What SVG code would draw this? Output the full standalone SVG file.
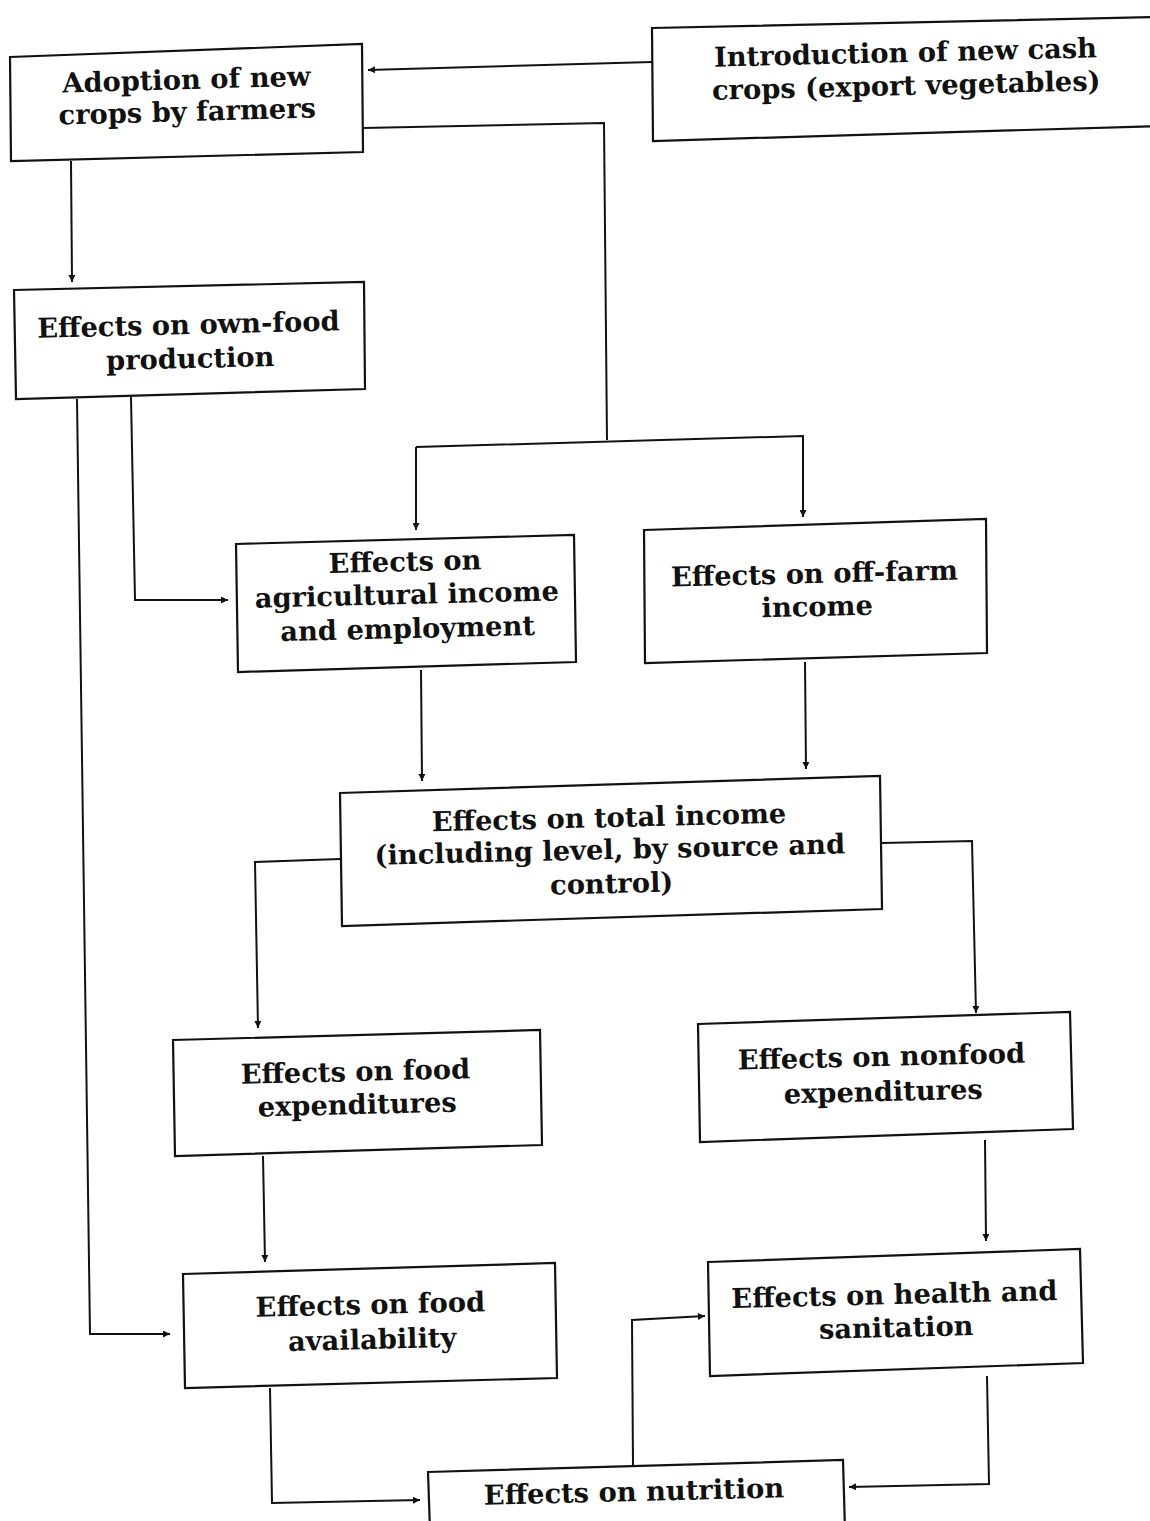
<svg xmlns="http://www.w3.org/2000/svg" width="1150" height="1521" viewBox="0 0 1150 1521">
<defs>
<style>
.box{fill:#fff;stroke:#111;stroke-width:2.2;stroke-linejoin:miter}
.lbl{font-family:"DejaVu Serif","Liberation Serif",serif;font-weight:bold;font-size:27.3px;fill:#111;text-anchor:middle}
.con{fill:none;stroke:#111;stroke-width:2}
</style>
<marker id="ah" viewBox="0 0 10 10" refX="10" refY="5" markerWidth="9" markerHeight="7" markerUnits="userSpaceOnUse" orient="auto">
<path d="M0,0 L10,5 L0,10 z" fill="#111"/>
</marker>
</defs>
<rect width="1150" height="1521" fill="#fff"/>

<g id="connectors">
<path class="con" d="M652,62 L368,70" marker-end="url(#ah)"/>
<path class="con" d="M363,128 L604,123 L607,440"/>
<path class="con" d="M416,447 L803,436 L803,517" marker-end="url(#ah)"/>
<path class="con" d="M416,447 L416,530" marker-end="url(#ah)"/>
<path class="con" d="M71,161 L72,282" marker-end="url(#ah)"/>
<path class="con" d="M77,399 L90,1334 L170,1334" marker-end="url(#ah)"/>
<path class="con" d="M131,397 L135,600 L228,600" marker-end="url(#ah)"/>
<path class="con" d="M421,670 L422,781" marker-end="url(#ah)"/>
<path class="con" d="M805,662 L806,769" marker-end="url(#ah)"/>
<path class="con" d="M340,859 L255,862 L258,1028" marker-end="url(#ah)"/>
<path class="con" d="M882,843 L972,841 L976,1013" marker-end="url(#ah)"/>
<path class="con" d="M263,1156 L265,1262" marker-end="url(#ah)"/>
<path class="con" d="M985,1140 L986,1241" marker-end="url(#ah)"/>
<path class="con" d="M270,1388 L272,1503 L420,1500" marker-end="url(#ah)"/>
<path class="con" d="M987,1376 L989,1484 L849,1487" marker-end="url(#ah)"/>
<path class="con" d="M633,1466 L632,1320 L705,1316" marker-end="url(#ah)"/>
</g>

<g id="n1">
<polygon class="box" points="10,57 362,44 363,152 11,161"/>
<g transform="rotate(-1.6 187 104)">
<text class="lbl" x="187" y="89">Adoption of new</text>
<text class="lbl" x="187" y="121">crops by farmers</text>
</g>
</g>

<g id="n2">
<polygon class="box" points="652,28 1160,17 1160,126 653,141"/>
<g transform="rotate(-1.4 906 76)">
<text class="lbl" x="906" y="62">Introduction of new cash</text>
<text class="lbl" x="906" y="95">crops (export vegetables)</text>
</g>
</g>

<g id="n3">
<polygon class="box" points="14,290 364,282 365,389 16,399"/>
<g transform="rotate(-1.4 189 350)">
<text class="lbl" x="189" y="334">Effects on own-food</text>
<text class="lbl" x="190" y="368">production</text>
</g>
</g>

<g id="n4">
<polygon class="box" points="236,544 574,535 576,662 238,672"/>
<g transform="rotate(-1.4 407 603)">
<text class="lbl" x="406" y="571">Effects on</text>
<text class="lbl" x="407" y="604">agricultural income</text>
<text class="lbl" x="407" y="638">and employment</text>
</g>
</g>

<g id="n5">
<polygon class="box" points="644,530 986,519 987,653 645,663"/>
<g transform="rotate(-1.4 816 598)">
<text class="lbl" x="815" y="583">Effects on off-farm</text>
<text class="lbl" x="817" y="616">income</text>
</g>
</g>

<g id="n6">
<polygon class="box" points="340,793 880,776 882,909 342,926"/>
<g transform="rotate(-1.4 611 858)">
<text class="lbl" x="610" y="827">Effects on total income</text>
<text class="lbl" x="610" y="859">(including level, by source and</text>
<text class="lbl" x="611" y="893">control)</text>
</g>
</g>

<g id="n7">
<polygon class="box" points="173,1040 540,1030 542,1145 175,1156"/>
<g transform="rotate(-1.4 357 1097)">
<text class="lbl" x="356" y="1081">Effects on food</text>
<text class="lbl" x="357" y="1114">expenditures</text>
</g>
</g>

<g id="n8">
<polygon class="box" points="698,1024 1070,1012 1073,1129 700,1142"/>
<g transform="rotate(-1.4 883 1083)">
<text class="lbl" x="882" y="1066">Effects on nonfood</text>
<text class="lbl" x="883" y="1101">expenditures</text>
</g>
</g>

<g id="n9">
<polygon class="box" points="183,1274 555,1263 557,1378 185,1388"/>
<g transform="rotate(-1.4 371 1331)">
<text class="lbl" x="371" y="1314">Effects on food</text>
<text class="lbl" x="372" y="1349">availability</text>
</g>
</g>

<g id="n10">
<polygon class="box" points="708,1262 1080,1249 1083,1363 710,1376"/>
<g transform="rotate(-1.4 895 1320)">
<text class="lbl" x="895" y="1304">Effects on health and</text>
<text class="lbl" x="896" y="1337">sanitation</text>
</g>
</g>

<g id="n11">
<polygon class="box" points="428,1472 843,1460 845,1530 430,1530"/>
<g transform="rotate(-1.4 634 1492)">
<text class="lbl" x="634" y="1501">Effects on nutrition</text>
</g>
</g>
</svg>
